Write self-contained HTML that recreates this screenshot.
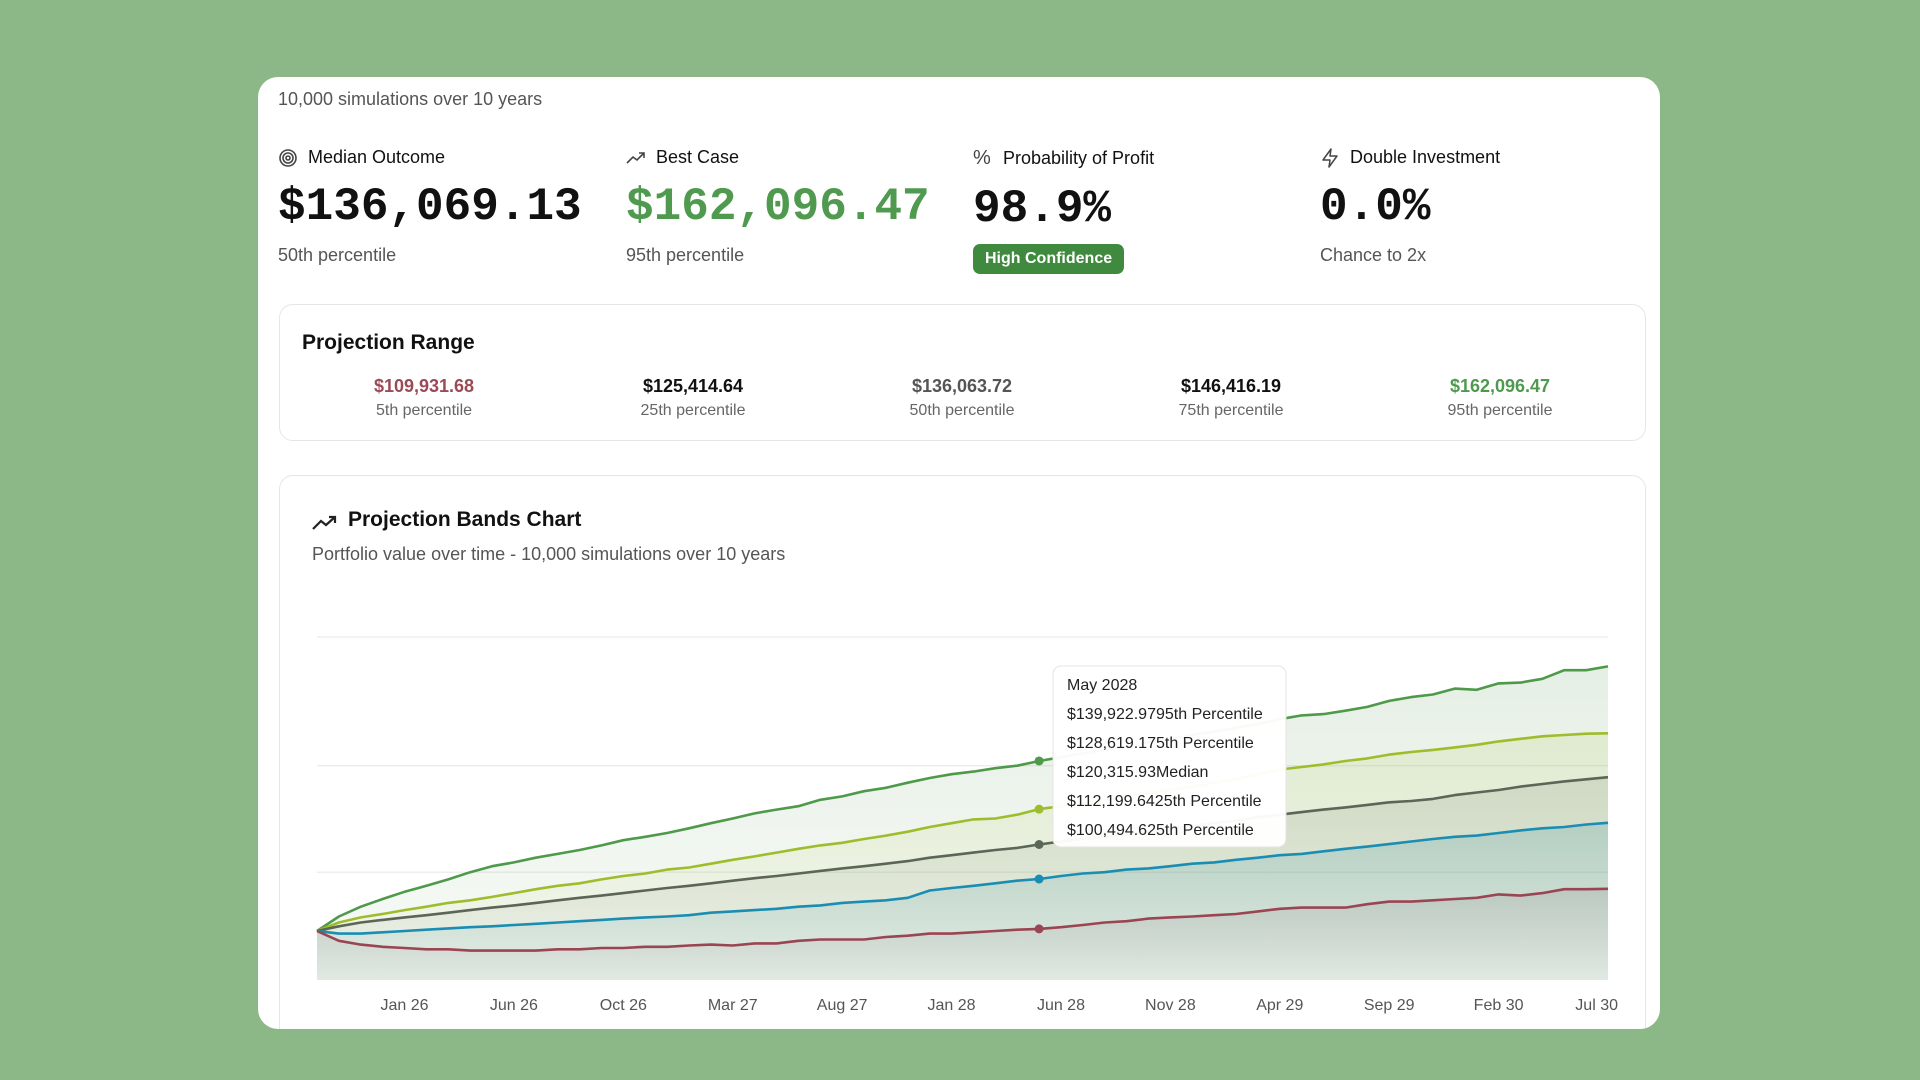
<!DOCTYPE html>
<html><head><meta charset="utf-8">
<style>
*{box-sizing:border-box;margin:0;padding:0}
body{width:1920px;height:1080px;background:#8cb887;font-family:"Liberation Sans",sans-serif;position:relative;overflow:hidden;color:#111}
.card{position:absolute;left:258px;top:77px;width:1402px;height:952px;background:#fff;border-radius:20px;overflow:hidden}
.abs{position:absolute}
.sub{color:#555;font-size:18px}
.lbl{font-size:18px;color:#111;display:flex;align-items:center;gap:10px}
.big{font-family:"Liberation Mono",monospace;font-weight:bold;font-size:46px;letter-spacing:0px}
.box{position:absolute;border:1px solid #e6e6e6;border-radius:14px;background:#fff}
.pr{position:absolute;text-align:center;width:240px}
.pr .v{font-size:18px;font-weight:bold;color:#111}
.pr .l{font-size:16px;color:#666;margin-top:5px}
</style></head><body>
<div class="card">
  <div class="abs sub" style="left:20px;top:12px">10,000 simulations over 10 years</div>

  <div class="abs" style="left:20px;top:70px">
    <div class="lbl"><svg width="20" height="20" viewBox="0 0 20 20"><g fill="none" stroke="#444" stroke-width="1.6"><circle cx="10" cy="10" r="8"/><circle cx="10" cy="10" r="5"/><circle cx="10" cy="10" r="2"/></g></svg>Median Outcome</div>
    <div class="big" style="margin-top:13px">$136,069.13</div>
    <div class="sub" style="margin-top:12px">50th percentile</div>
  </div>
  <div class="abs" style="left:368px;top:70px">
    <div class="lbl"><svg width="20" height="20" viewBox="0 0 20 20"><path d="M1 15 L7 9 L11 12 L18 5 M13 5 H18 V10" fill="none" stroke="#444" stroke-width="1.6"/></svg>Best Case</div>
    <div class="big" style="margin-top:13px;color:#4f9a4f">$162,096.47</div>
    <div class="sub" style="margin-top:12px">95th percentile</div>
  </div>
  <div class="abs" style="left:715px;top:70px">
    <div class="lbl"><span style="font-size:20px;color:#444;width:20px">%</span>Probability of Profit</div>
    <div class="big" style="margin-top:13px">98.9%</div>
    <div style="margin-top:9px;display:inline-block;background:#3f8a3f;color:#fff;font-size:16px;font-weight:bold;padding:6px 12px;border-radius:7px">High Confidence</div>
  </div>
  <div class="abs" style="left:1062px;top:70px">
    <div class="lbl"><svg width="20" height="20" viewBox="0 0 20 20"><path d="M11 1 L3 12 H10 L9 19 L17 8 H10 Z" fill="none" stroke="#444" stroke-width="1.5" stroke-linejoin="round"/></svg>Double Investment</div>
    <div class="big" style="margin-top:13px">0.0%</div>
    <div class="sub" style="margin-top:12px">Chance to 2x</div>
  </div>

  <div class="box" style="left:21px;top:227px;width:1367px;height:137px">
    <div class="abs" style="left:22px;top:26px;font-size:21px;font-weight:bold">Projection Range</div>
    <div class="pr" style="left:24px;top:71px"><div class="v" style="color:#9a4b55">$109,931.68</div><div class="l">5th percentile</div></div>
    <div class="pr" style="left:293px;top:71px"><div class="v">$125,414.64</div><div class="l">25th percentile</div></div>
    <div class="pr" style="left:562px;top:71px"><div class="v" style="color:#555">$136,063.72</div><div class="l">50th percentile</div></div>
    <div class="pr" style="left:831px;top:71px"><div class="v">$146,416.19</div><div class="l">75th percentile</div></div>
    <div class="pr" style="left:1100px;top:71px"><div class="v" style="color:#4f9a4f">$162,096.47</div><div class="l">95th percentile</div></div>
  </div>

  <div class="box" style="left:21px;top:398px;width:1367px;height:600px">
    <svg class="abs" style="left:32px;top:37px" width="26" height="20" viewBox="0 0 26 20"><path d="M1 16 L9 8 L14 12 L23 4 M17 4 H23 V10" fill="none" stroke="#222" stroke-width="2.2"/></svg>
    <div class="abs" style="left:68px;top:32px;font-size:21px;font-weight:bold">Projection Bands Chart</div>
    <div class="abs sub" style="left:32px;top:68px">Portfolio value over time - 10,000 simulations over 10 years</div>
  </div>
</div>
<svg id="chart" class="abs" style="position:absolute;left:0;top:0" width="1920" height="1080"></svg>
<script>
const labels=["Jan 26","Jun 26","Oct 26","Mar 27","Aug 27","Jan 28","Jun 28","Nov 28","Apr 29","Sep 29","Feb 30","Jul 30"];
const labelIdx=[4,9,14,19,24,29,34,39,44,49,54,59];
const gridVals=[169,138.8,113.8];
const p95=[100,103.4,105.7,107.5,109.2,110.6,112.1,113.8,115.2,116.1,117.2,118.1,119.0,120.1,121.3,122.1,123.0,124.1,125.3,126.4,127.6,128.5,129.3,130.8,131.6,132.8,133.6,134.8,135.9,136.8,137.4,138.2,138.8,139.9,140.8,141.7,142.5,143.4,144.3,145.1,146.0,146.8,147.7,148.6,149.7,150.6,150.9,151.7,152.6,154.0,154.9,155.5,156.9,156.6,158.1,158.3,159.2,161.2,161.2,162.1];
const p75=[100,102.0,103.2,104.0,104.9,105.7,106.6,107.2,108.0,108.9,109.8,110.6,111.2,112.1,112.9,113.5,114.4,114.9,115.8,116.7,117.5,118.4,119.3,120.1,120.7,121.6,122.4,123.3,124.4,125.3,126.2,126.4,127.3,128.6,129.3,129.9,130.8,131.6,132.5,133.1,133.9,134.8,135.6,136.8,137.9,138.5,139.1,139.9,140.5,141.4,142.0,142.5,143.1,143.7,144.5,145.1,145.7,146.0,146.3,146.4];
const p50=[100,101.1,102.0,102.6,103.2,103.7,104.3,104.9,105.5,106.0,106.6,107.2,107.8,108.3,108.9,109.5,110.1,110.6,111.2,111.8,112.4,112.9,113.5,114.1,114.7,115.2,115.8,116.4,117.2,117.8,118.4,119.0,119.5,120.3,121.0,121.6,122.1,122.7,123.3,123.9,124.7,125.3,125.9,126.7,127.3,127.9,128.5,129.0,129.6,130.2,130.5,131.0,131.9,132.5,133.1,133.9,134.5,135.1,135.6,136.1];
const p25=[100,99.4,99.4,99.7,100,100.3,100.6,100.9,101.1,101.4,101.7,102.0,102.3,102.6,102.9,103.2,103.4,103.7,104.3,104.6,104.9,105.2,105.7,106.0,106.6,106.9,107.2,107.8,109.5,110.1,110.6,111.2,111.8,112.2,112.9,113.5,113.8,114.4,114.7,115.2,115.8,116.1,116.7,117.2,117.8,118.1,118.7,119.3,119.8,120.4,121.0,121.6,122.1,122.4,123.0,123.6,124.1,124.4,125.0,125.4];
const p5=[100,97.7,96.8,96.3,96.0,95.7,95.7,95.4,95.4,95.4,95.4,95.7,95.7,96.0,96.0,96.3,96.3,96.6,96.8,96.6,97.1,97.1,97.7,98.0,98.0,98.0,98.6,98.9,99.4,99.4,99.7,100.0,100.3,100.5,100.9,101.4,102.0,102.3,102.9,103.2,103.4,103.7,104.0,104.6,105.2,105.5,105.5,105.5,106.3,106.9,106.9,107.2,107.5,107.8,108.6,108.3,108.9,109.8,109.8,109.9];
const tipIndex=33;
const tipTitle="May 2028";
const tipRows=["$139,922.9795th Percentile","$128,619.175th Percentile","$120,315.93Median","$112,199.6425th Percentile","$100,494.625th Percentile"];

const X0=317,X1=1608,Y0=980,Y1=637,VMIN=88.5,VMAX=169;
const n=p95.length;
const xs=i=>X0+(X1-X0)*i/(n-1);
const ys=v=>Y0-(v-VMIN)/(VMAX-VMIN)*(Y0-Y1);
const NS="http://www.w3.org/2000/svg";
const svg=document.getElementById('chart');
function mk(t,a,p){const e=document.createElementNS(NS,t);for(const k in a)e.setAttribute(k,a[k]);(p||svg).appendChild(e);return e;}
gridVals.forEach((v,i)=>{const g=mk('line',{x1:X0,x2:X1,y1:ys(v),y2:ys(v),stroke:'#ececec','stroke-width':1.3});

});
const series=[
 {d:p95,c:'#4e9a4a',f:'#7fae7a',name:'p95'},
 {d:p75,c:'#9dbd2c',f:'#b8cf6a',name:'p75'},
 {d:p50,c:'#5b6658',f:'#7e8a78',name:'median'},
 {d:p25,c:'#1b8db3',f:'#2f8f9e',name:'p25'},
 {d:p5,c:'#9b4552',f:'#8a8284',name:'p5'}];
const defs=mk('defs',{});
series.forEach((s,k)=>{
 const g=mk('linearGradient',{id:'g'+k,x1:0,y1:0,x2:0,y2:1},defs);
 mk('stop',{offset:'0','stop-color':s.f,'stop-opacity':0.2},g);
 mk('stop',{offset:'1','stop-color':s.f,'stop-opacity':0.05},g);
});
series.forEach((s,k)=>{
 let pts=s.d.map((v,i)=>xs(i).toFixed(1)+','+ys(v).toFixed(1)).join(' L');
 const a=mk('path',{d:'M'+pts+' L'+X1+','+Y0+' L'+X0+','+Y0+' Z',fill:'url(#g'+k+')'});
 
 
});
series.forEach(s=>{
 let pts=s.d.map((v,i)=>xs(i).toFixed(1)+','+ys(v).toFixed(1)).join(' L');
 const l=mk('path',{d:'M'+pts,fill:'none',stroke:s.c,'stroke-width':2.6,'stroke-linejoin':'round'});
 
 
 const c=mk('circle',{cx:xs(tipIndex),cy:ys(s.d[tipIndex]),r:4.5,fill:s.c});
 
 
});
labels.forEach((t,i)=>{
 let x=xs(labelIdx[i]); let anchor='middle';
 if(i===labels.length-1){x=X1+10;anchor='end';}
 const e=mk('text',{x:x,y:1010,'text-anchor':anchor,'font-size':16,fill:'#555','font-family':'Liberation Sans, sans-serif'});
 e.textContent=t;
 
 
});
const tx=1053,ty=666;
const tb=mk('rect',{x:tx,y:ty,width:233,height:181,rx:8,fill:'#fff','fill-opacity':0.96,stroke:'#e4e4e4'});


[tipTitle].concat(tipRows).forEach((t,i)=>{
 const e=mk('text',{x:tx+14,y:ty+24+i*29,'font-size':16,fill:'#222','font-family':'Liberation Sans, sans-serif'});
 e.textContent=t;
 
 
});
</script>
</body></html>
